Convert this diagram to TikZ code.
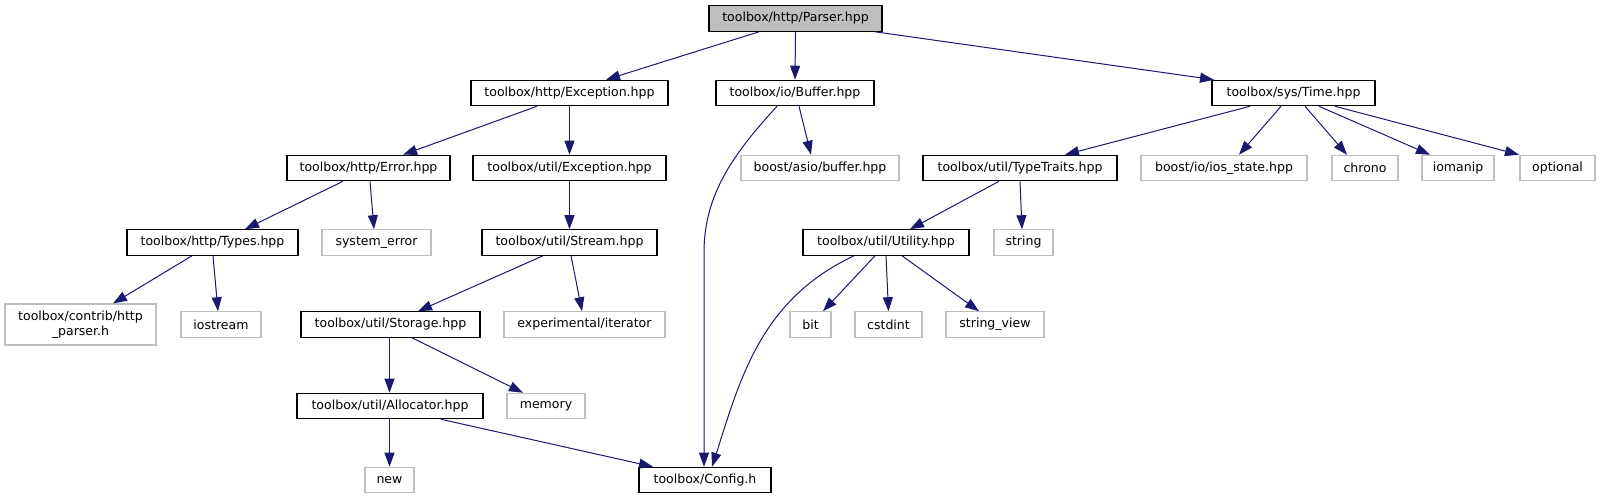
\documentclass[tikz,border=0pt]{standalone}
\usepackage{fontspec}
\setmainfont{DejaVu Sans}
\usetikzlibrary{arrows.meta,calc}
\definecolor{edgecol}{HTML}{191970}
\definecolor{grayb}{HTML}{BFBFBF}
\begin{document}
\begin{tikzpicture}[x=0.75pt,y=-0.75pt,
  box/.style={draw=black,line width=0.8pt,fill=white,inner sep=0pt,minimum height=19.125pt,font=\fontsize{9.4}{11}\selectfont},
  ext/.style={box,draw=grayb},
  root/.style={box,fill=grayb},
  mw/.style={minimum width=#1*0.75pt},
  dep/.style={draw=edgecol,line width=0.75pt,-{Triangle[length=10.5pt,width=7.5pt]}}]
\useasboundingbox (0,0) rectangle (1601,500);
% row 0
\node[root,mw=173] (parser) at (795.5,18.5) {toolbox/http/Parser.hpp};
% row 1
\node[box,mw=197] (hexc) at (569.5,93) {toolbox/http/Exception.hpp};
\node[box,mw=158] (buffer) at (795,93) {toolbox/io/Buffer.hpp};
\node[box,mw=163] (time) at (1293.5,93) {toolbox/sys/Time.hpp};
% row 2
\node[box,mw=163] (error) at (368.5,168) {toolbox/http/Error.hpp};
\node[box,mw=193] (uexc) at (569.5,168) {toolbox/util/Exception.hpp};
\node[ext,mw=158] (asio) at (820,168) {boost/asio/buffer.hpp};
\node[box,mw=194] (traits) at (1020,168) {toolbox/util/TypeTraits.hpp};
\node[ext,mw=166] (ios) at (1224,168) {boost/io/ios\_state.hpp};
\node[ext,mw=66] (chrono) at (1365,168) {chrono};
\node[ext,mw=72] (iomanip) at (1458,168) {iomanip};
\node[ext,mw=75] (optional) at (1557.5,168) {optional};
% row 3
\node[box,mw=171] (types) at (212.5,242.5) {toolbox/http/Types.hpp};
\node[ext,mw=109] (syserr) at (376.5,242.5) {system\_error};
\node[box,mw=175] (stream) at (569.5,242.5) {toolbox/util/Stream.hpp};
\node[box,mw=166] (utility) at (886,242.5) {toolbox/util/Utility.hpp};
\node[ext,mw=59] (string) at (1023.5,242.5) {string};
% row 4
\node[ext,mw=151,minimum height=30.75pt,align=center] (hparser) at (80.5,324.5) {toolbox/contrib/http\\\_parser.h};
\node[ext,mw=80] (iostream) at (221,324.5) {iostream};
\node[box,mw=179] (storage) at (390.5,324.5) {toolbox/util/Storage.hpp};
\node[ext,mw=161] (expiter) at (584.5,324.5) {experimental/iterator};
\node[ext,mw=41] (bit) at (810.5,324.5) {bit};
\node[ext,mw=67] (cstdint) at (888.5,324.5) {cstdint};
\node[ext,mw=98] (strview) at (995,324.5) {string\_view};
% row 5
\node[box,mw=186] (alloc) at (390,406) {toolbox/util/Allocator.hpp};
\node[ext,mw=78] (memory) at (546,406) {memory};
% row 6
\node[ext,mw=49] (new) at (389.5,480) {new};
\node[box,mw=132] (config) at (705,480) {toolbox/Config.h};
% edges
\draw[dep] ($(parser.south)+(-36.5,0)$) -- ($(hexc.north)+(36.5,0)$);
\draw[dep] (parser.south) -- (buffer.north);
\draw[dep] ($(parser.south)+(79.5,0)$) -- ($(time.north)+(-79.5,0)$);
\draw[dep] ($(hexc.south)+(-32.5,0)$) -- ($(error.north)+(34.5,0)$);
\draw[dep] (hexc.south) -- (uexc.north);
\draw[dep] ($(buffer.south)+(4,0)$) -- ($(asio.north)+(-9,0)$);
\draw[dep] ($(buffer.south)+(-18,0)$) .. controls (737,150) and (704,192) .. (704,252) -- ($(config.north)+(-1,0)$);
\draw[dep] ($(time.south)+(-43.5,0)$) -- ($(traits.north)+(45,0)$);
\draw[dep] ($(time.south)+(-12.5,0)$) -- ($(ios.north)+(15,0)$);
\draw[dep] ($(time.south)+(11.5,0)$) -- ($(chrono.north)+(-18,0)$);
\draw[dep] ($(time.south)+(25.5,0)$) -- ($(iomanip.north)+(-28,0)$);
\draw[dep] ($(time.south)+(41.5,0)$) -- ($(optional.north)+(-38.5,0)$);
\draw[dep] ($(error.south)+(-25.5,0)$) -- ($(types.north)+(32.5,0)$);
\draw[dep] ($(error.south)+(1.5,0)$) -- ($(syserr.north)+(-2.5,0)$);
\draw[dep] (uexc.south) -- (stream.north);
\draw[dep] ($(traits.south)+(-21,0)$) -- ($(utility.north)+(24,0)$);
\draw[dep] (traits.south) -- ($(string.north)+(-1.5,0)$);
\draw[dep] ($(types.south)+(-20.5,0)$) -- ($(hparser.north)+(32.5,0)$);
\draw[dep] ($(types.south)+(0.5,0)$) -- ($(iostream.north)+(-3,0)$);
\draw[dep] ($(stream.south)+(-26.5,0)$) -- ($(storage.north)+(27.5,0)$);
\draw[dep] ($(stream.south)+(1.5,0)$) -- ($(expiter.north)+(-2.5,0)$);
\draw[dep] ($(storage.south)+(-1,0)$) -- ($(alloc.north)+(-0.5,0)$);
\draw[dep] ($(storage.south)+(21.5,0)$) -- ($(memory.north)+(-23,0)$);
\draw[dep] ($(alloc.south)+(-0.5,0)$) -- (new.north);
\draw[dep] ($(alloc.south)+(51,0)$) -- ($(config.north)+(-52,0)$);
\draw[dep] ($(utility.south)+(-32,0)$) .. controls (760,300) and (740,380) .. ($(config.north)+(7,0)$);
\draw[dep] ($(utility.south)+(-11,0)$) -- ($(bit.north)+(12.5,0)$);
\draw[dep] (utility.south) -- (cstdint.north);
\draw[dep] ($(utility.south)+(16,0)$) -- ($(strview.north)+(-16,0)$);
\end{tikzpicture}
\end{document}
